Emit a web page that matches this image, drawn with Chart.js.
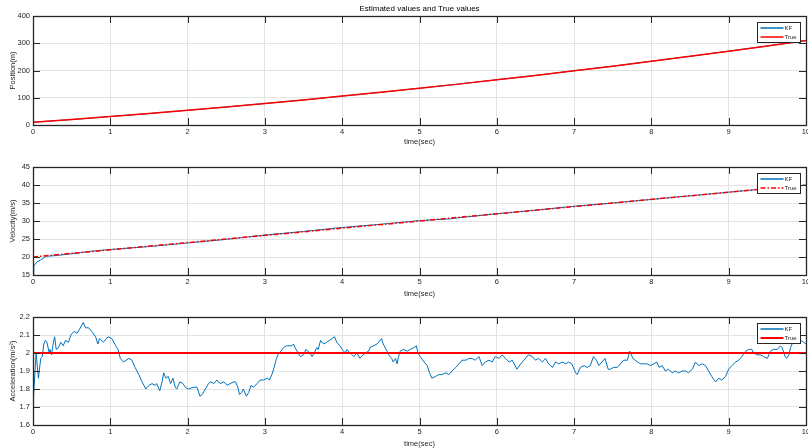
<!DOCTYPE html>
<html>
<head>
<meta charset="utf-8">
<script src="https://cdn.jsdelivr.net/npm/chart.js@4.4.0/dist/chart.umd.min.js"></script>
<style>
    html, body { margin: 0; padding: 0; background: #fff; }
    #wrap { position: relative; width: 808px; height: 448px; overflow: hidden; }
    canvas { position: absolute; left: 0; }
</style>
</head>
<body>
<div id="wrap">
    <canvas id="cPos" width="808" height="150" style="top:0"></canvas>
    <canvas id="cVel" width="808" height="150" style="top:150px"></canvas>
    <canvas id="cAcc" width="808" height="148" style="top:300px"></canvas>
</div>
<script>
// Posição (m)
const posTime = [0, 0.5, 1, 1.5, 2, 2.5, 3, 3.5, 4, 4.5, 5, 5.5, 6, 6.5, 7, 7.5, 8, 8.5, 9, 9.5, 10];
const posKF   = [10, 20, 31, 42, 54, 66, 79, 92, 106, 120, 135, 150, 166, 182, 199, 216, 234, 252, 271, 290, 310];
const posTrue = [10, 20, 31, 42, 54, 66, 79, 92, 106, 120, 135, 150, 166, 182, 199, 216, 234, 252, 271, 290, 310];

// Velocidade (m/s)
const velTime = [0, 0.01, 0.05, 0.1, 0.17, 0.3, 0.5, 0.75, 1, 1.5, 2, 2.5, 3, 3.5, 4, 4.5, 5, 5.4, 5.5, 6, 6.5, 7, 7.5, 8, 8.5, 9, 9.5, 10];
const velKF   = [15, 17.5, 18.6, 19.2, 20.2, 20.4, 20.9, 21.6, 22.1, 22.9, 23.9, 24.9, 26.1, 27.1, 28.2, 29.1, 30.1, 30.6, 30.9, 32.0, 33.0, 34.1, 35.0, 36.0, 37.0, 38.0, 39.0, 40.0];
const velTrueTime = [0, 10];
const velTrue     = [20, 40];

// Aceleração (m/s^2)
const accTime = [0, 0.004, 0.01, 0.04, 0.07, 0.1, 0.12, 0.14, 0.16, 0.18, 0.21, 0.22, 0.24, 0.26, 0.28, 0.3, 0.33, 0.36, 0.39, 0.42, 0.46, 0.49,
    0.53, 0.57, 0.6, 0.65, 0.68, 0.72, 0.76, 0.81, 0.84, 0.86, 0.91, 0.97, 1.02, 1.07, 1.1, 1.13, 1.17, 1.24, 1.28, 1.32, 1.37, 1.41, 1.46,
    1.5, 1.54, 1.58, 1.6, 1.64, 1.67, 1.69, 1.72, 1.75, 1.78, 1.81, 1.84, 1.86, 1.9, 1.94, 1.97, 2.01, 2.08, 2.12, 2.16, 2.19, 2.23, 2.27,
    2.3, 2.34, 2.38, 2.42, 2.47, 2.51, 2.55, 2.6, 2.62, 2.65, 2.67, 2.7, 2.72, 2.76, 2.79, 2.82, 2.85, 2.9, 2.94, 2.98, 3.03, 3.06, 3.09,
    3.12, 3.15, 3.18, 3.21, 3.24, 3.28, 3.35, 3.37, 3.39, 3.43, 3.46, 3.5, 3.53, 3.58, 3.61, 3.64, 3.67, 3.69, 3.72, 3.76, 3.8, 3.9, 3.93,
    3.97, 4.0, 4.04, 4.06, 4.1, 4.13, 4.15, 4.19, 4.23, 4.27, 4.3, 4.34, 4.36, 4.45, 4.51, 4.53, 4.58, 4.6, 4.64, 4.66, 4.69, 4.71, 4.73,
    4.75, 4.79, 4.84, 4.88, 4.93, 4.96, 4.98, 5.01, 5.06, 5.1, 5.13, 5.16, 5.21, 5.25, 5.29, 5.34, 5.38, 5.42, 5.47, 5.51, 5.55, 5.6,
    5.64, 5.68, 5.72, 5.77, 5.81, 5.85, 5.9, 5.94, 5.98, 6.03, 6.07, 6.11, 6.16, 6.2, 6.26, 6.31, 6.35, 6.41, 6.46, 6.5, 6.54, 6.59, 6.63,
    6.67, 6.72, 6.76, 6.8, 6.85, 6.89, 6.93, 6.97, 7.02, 7.04, 7.08, 7.13, 7.17, 7.21, 7.25, 7.29, 7.32, 7.36, 7.4, 7.44, 7.47, 7.51, 7.56,
    7.6, 7.64, 7.69, 7.72, 7.76, 7.82, 7.86, 7.9, 7.94, 7.99, 8.03, 8.07, 8.1, 8.14, 8.18, 8.22, 8.27, 8.31, 8.35, 8.4, 8.44, 8.48, 8.53,
    8.57, 8.61, 8.66, 8.7, 8.74, 8.78, 8.83, 8.87, 8.91, 8.96, 9.0, 9.04, 9.09, 9.13, 9.17, 9.22, 9.26, 9.3, 9.32, 9.37, 9.41, 9.45, 9.5,
    9.54, 9.58, 9.63, 9.67, 9.69, 9.73, 9.75, 9.78, 9.8, 9.82, 9.84, 9.88, 9.93, 9.97, 10.0];
const accKF = [1.6, 1.77, 1.76, 2.0, 1.86, 1.97, 1.98, 2.05, 2.07, 2.06, 2.0, 2.02, 1.99, 2.05, 2.09, 2.02, 2.03, 2.06, 2.04, 2.07, 2.06, 2.1,
    2.12, 2.11, 2.13, 2.17, 2.14, 2.14, 2.12, 2.09, 2.05, 2.08, 2.06, 2.09, 2.08, 2.04, 2.02, 1.97, 1.95, 1.97, 1.96, 1.92, 1.88, 1.84, 1.8,
    1.82, 1.83, 1.82, 1.83, 1.79, 1.84, 1.89, 1.86, 1.87, 1.83, 1.86, 1.81, 1.8, 1.84, 1.83, 1.81, 1.8, 1.81, 1.81, 1.76, 1.77, 1.8, 1.83,
    1.84, 1.83, 1.85, 1.83, 1.84, 1.82, 1.83, 1.84, 1.84, 1.81, 1.77, 1.78, 1.8, 1.76, 1.78, 1.82, 1.81, 1.83, 1.85, 1.85, 1.86, 1.85, 1.88,
    1.92, 1.97, 2.0, 2.01, 2.03, 2.04, 2.04, 2.05, 2.03, 2.0, 1.98, 1.99, 2.02, 2.0, 1.98, 2.0, 2.03, 2.02, 2.07, 2.05, 2.06, 2.09, 2.06,
    2.04, 2.02, 2.0, 2.02, 2.0, 1.99, 1.98, 2.0, 1.97, 1.99, 2.0, 2.01, 2.03, 2.05, 2.08, 2.05, 2.01, 1.99, 1.97, 1.95, 1.97, 1.94, 1.98,
    2.01, 2.02, 2.01, 2.02, 2.03, 2.04, 2.0, 1.98, 1.95, 1.93, 1.89, 1.86, 1.87, 1.88, 1.88, 1.89, 1.88, 1.9, 1.92, 1.94, 1.96, 1.96,
    1.97, 1.97, 1.96, 1.98, 1.93, 1.95, 1.96, 1.95, 1.98, 1.97, 1.99, 1.97, 1.95, 1.96, 1.91, 1.94, 1.96, 1.99, 1.98, 1.96, 1.97, 1.95, 1.97,
    1.94, 1.92, 1.95, 1.94, 1.95, 1.94, 1.95, 1.94, 1.89, 1.88, 1.92, 1.93, 1.92, 1.93, 1.98, 1.96, 1.93, 1.95, 1.97, 1.91, 1.91, 1.92, 1.92,
    1.94, 1.96, 1.96, 2.01, 1.97, 1.95, 1.94, 1.94, 1.94, 1.93, 1.94, 1.95, 1.92, 1.93, 1.9, 1.91, 1.89, 1.9, 1.89, 1.9, 1.9, 1.89, 1.91,
    1.95, 1.93, 1.94, 1.93, 1.9, 1.87, 1.84, 1.86, 1.85, 1.87, 1.91, 1.93, 1.95, 1.96, 1.98, 2.01, 2.02, 2.02, 2.0, 1.99, 1.99, 1.98, 1.97,
    2.01, 2.02, 2.02, 2.04, 2.03, 1.98, 1.97, 1.99, 2.03, 2.05, 2.08, 2.06, 2.07, 2.06, 2.05];
const accTrueTime = [0, 10];
const accTrue     = [2, 2];

// Eixos
const timeTicks = { min: 0, max: 10, step: 1 };
const posTicks  = { min: 0, max: 400, step: 100 };
const velTicks  = { min: 15, max: 45, step: 5 };
const accTicks  = { min: 1.6, max: 2.2, step: 0.1 };

const FONTE = '"Liberation Sans", Arial, sans-serif';
const COR_EIXO = '#262626';
const AZUL = '#0072BD';
const VERMELHO = '#FF0000';

function pontos(xs, ys) {
    return xs.map((x, i) => ({ x: x, y: ys[i] }));
}

// Rótulos no estilo MATLAB (2.2, 2.1, 2, 1.9 ...)
function rotulo(v) {
    return String(Math.round(v * 1000) / 1000);
}

// Caixa estilo MATLAB: borda, ticks para dentro, legenda com moldura e título
const caixaMatlab = {
    id: 'caixaMatlab',
    afterDatasetsDraw(chart, args, opts) {
        const { ctx, chartArea: a, scales } = chart;
        ctx.save();
        ctx.strokeStyle = COR_EIXO;
        ctx.lineWidth = 1;
        ctx.beginPath();
        scales.x.ticks.forEach(t => {
            const px = Math.round(scales.x.getPixelForValue(t.value)) + 0.5;
            ctx.moveTo(px, a.bottom); ctx.lineTo(px, a.bottom - 7);
            ctx.moveTo(px, a.top); ctx.lineTo(px, a.top + 7);
        });
        scales.y.ticks.forEach(t => {
            const py = Math.round(scales.y.getPixelForValue(t.value)) + 0.5;
            ctx.moveTo(a.left, py); ctx.lineTo(a.left + 7, py);
            ctx.moveTo(a.right, py); ctx.lineTo(a.right - 7, py);
        });
        ctx.stroke();
        ctx.lineWidth = 1.3;
        ctx.strokeRect(Math.round(a.left) + 0.5, Math.round(a.top) + 0.5,
            Math.round(a.right - a.left), Math.round(a.bottom - a.top));

        // Legenda
        const bx = Math.round(a.right) - 48.5, by = Math.round(a.top) + 6.5, bw = 43, bh = 20;
        ctx.fillStyle = '#fff';
        ctx.fillRect(bx, by, bw, bh);
        ctx.lineWidth = 1;
        ctx.strokeStyle = COR_EIXO;
        ctx.strokeRect(bx, by, bw, bh);
        ctx.font = '6px ' + FONTE;
        ctx.textBaseline = 'middle';
        ctx.textAlign = 'left';
        chart.data.datasets.forEach((ds, i) => {
            const ly = by + 5.5 + i * 9;
            ctx.beginPath();
            ctx.strokeStyle = ds.borderColor;
            ctx.lineWidth = Math.max(1.5, ds.borderWidth);
            ctx.setLineDash(ds.borderDash || []);
            ctx.moveTo(bx + 3, ly); ctx.lineTo(bx + 26, ly);
            ctx.stroke();
            ctx.setLineDash([]);
            ctx.fillStyle = COR_EIXO;
            ctx.fillText(ds.label, bx + 27, ly);
        });

        if (opts.titulo) {
            ctx.font = '8px ' + FONTE;
            ctx.textAlign = 'center';
            ctx.fillStyle = '#000';
            ctx.fillText(opts.titulo, (a.left + a.right) / 2, 9);
        }
        ctx.restore();
    }
};

function criarPainel(id, cfg) {
    return new Chart(document.getElementById(id), {
        type: 'line',
        data: { datasets: cfg.datasets },
        options: {
            responsive: false,
            animation: false,
            layout: { padding: { top: cfg.padTop, right: 2, left: 0, bottom: 0 } },
            elements: { point: { radius: 0 }, line: { tension: 0 } },
            plugins: {
                legend: { display: false },
                tooltip: { enabled: false },
                caixaMatlab: { titulo: cfg.titulo || '' }
            },
            scales: {
                x: {
                    type: 'linear',
                    min: timeTicks.min,
                    max: timeTicks.max,
                    grid: { color: '#e3e3e3', drawTicks: false },
                    border: { display: false },
                    ticks: { stepSize: timeTicks.step, autoSkip: false, maxRotation: 0, padding: 2, color: COR_EIXO, font: { family: FONTE, size: 7.5 }, callback: rotulo },
                    title: { display: true, text: 'time(sec)', color: COR_EIXO, font: { family: FONTE, size: 7.5 }, padding: { top: 0, bottom: cfg.xTitlePad } },
                    afterFit(s) { s.height = cfg.xHeight; s.paddingLeft = 0; s.paddingRight = 0; }
                },
                y: {
                    min: cfg.yTicks.min,
                    max: cfg.yTicks.max,
                    grid: { color: '#e3e3e3', drawTicks: false },
                    border: { display: false },
                    ticks: { stepSize: cfg.yTicks.step, padding: 3, color: COR_EIXO, font: { family: FONTE, size: 7.5 }, callback: rotulo },
                    title: { display: true, text: cfg.yTitle, color: COR_EIXO, font: { family: FONTE, size: 7.5 }, padding: { top: 8, bottom: 0 } },
                    afterFit(s) { s.width = 33; s.paddingTop = 0; s.paddingBottom = 0; }
                }
            }
        },
        plugins: [caixaMatlab]
    });
}

criarPainel('cPos', {
    padTop: 16, xHeight: 25, xTitlePad: 3.2,
    titulo: 'Estimated values and True values',
    yTicks: posTicks, yTitle: 'Position(m)',
    datasets: [
        { label: 'KF', data: pontos(posTime, posKF), borderColor: AZUL, borderWidth: 1, order: 1 },
        { label: 'True', data: pontos(posTime, posTrue), borderColor: VERMELHO, borderWidth: 1.5, order: 0 }
    ]
});

criarPainel('cVel', {
    padTop: 17, xHeight: 25, xTitlePad: 1.5,
    yTicks: velTicks, yTitle: 'Velocity(m/s)',
    datasets: [
        { label: 'KF', data: pontos(velTime, velKF), borderColor: AZUL, borderWidth: 1, order: 1 },
        { label: 'True', data: pontos(velTrueTime, velTrue), borderColor: VERMELHO, borderWidth: 1.5, borderDash: [5, 2, 1.5, 2], order: 0 }
    ]
});

criarPainel('cAcc', {
    padTop: 17, xHeight: 23, xTitlePad: 0,
    yTicks: accTicks, yTitle: 'Acceleration(m/s²)',
    datasets: [
        { label: 'KF', data: pontos(accTime, accKF), borderColor: AZUL, borderWidth: 1, order: 1 },
        { label: 'True', data: pontos(accTrueTime, accTrue), borderColor: VERMELHO, borderWidth: 2, order: 0 }
    ]
});
</script>
</body>
</html>
